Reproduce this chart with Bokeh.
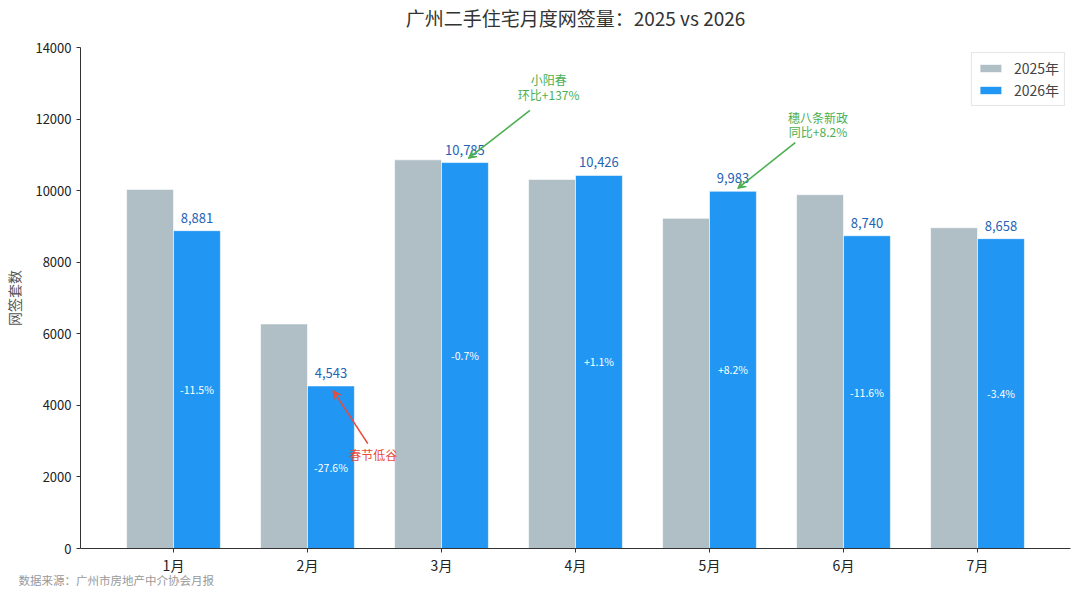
import numpy as np
from bokeh.plotting import figure
from bokeh.models import (ColumnDataSource, Range1d, FixedTicker, Legend, LegendItem,
                          Arrow, VeeHead, Title)
from bokeh.core.properties import value
from bokeh.embed import file_html
from bokeh.resources import INLINE

months = ["1月", "2月", "3月", "4月", "5月", "6月", "7月"]
v2025 = [10035, 6275, 10861, 10313, 9226, 9887, 8963]
v2026 = [8881, 4543, 10785, 10426, 9983, 8740, 8658]
yoy = ["-11.5%", "-27.6%", "-0.7%", "+1.1%", "+8.2%", "-11.6%", "-3.4%"]
yticks = [0, 2000, 4000, 6000, 8000, 10000, 12000, 14000]

# annotations: (text lines, text x, text y list, arrow start, arrow end, colour)
ann_texts = [["小阳春", "环比+137%"], ["穗八条新政", "同比+8.2%"], ["春节低谷"]]
ann_tx = [2.80, 4.81, 1.49]
ann_ty = [[13100, 12700], [12050, 11660], [2640]]
ann_start = [(2.66, 12240), (4.64, 11345), (1.45, 2930)]
ann_end = [(2.20, 10900), (4.21, 10060), (1.19, 4420)]
ann_color = ["#4caf50", "#4caf50", "#e74c3c"]

FONT = "Noto Sans CJK SC"
W = 0.35
idx = np.arange(len(months))
src = ColumnDataSource(dict(
    x25=idx - W / 2, x26=idx + W / 2, v25=v2025, v26=v2026,
    lab=[f"{v:,}" for v in v2026], yoy=yoy, half=[v / 2 for v in v2026]))

p = figure(width=1072, height=594, output_backend="svg", toolbar_location=None,
           title=None,
           x_range=Range1d(-0.694, 6.694), y_range=Range1d(0, 14000),
           min_border_left=80, min_border_right=2, min_border_top=47, min_border_bottom=46)
p.outline_line_color = None
p.xgrid.visible = False
p.ygrid.visible = False
p.background_fill_color = "white"

# spacer between frame and title, then the title itself
p.add_layout(Title(text=" ", text_font_size="13px", standoff=0), "above")
p.add_layout(Title(text="广州二手住宅月度网签量：2025 vs 2026", align="center",
                   text_font=FONT, text_font_size="19px", text_font_style="normal",
                   text_color="#333333", standoff=0), "above")

r25 = p.vbar(x="x25", top="v25", width=W, source=src, fill_color="#b0bec5",
             line_color="white", line_width=0.6)
r26 = p.vbar(x="x26", top="v26", width=W, source=src, fill_color="#2196f3",
             line_color="white", line_width=0.6)

p.text(x="x26", y="v26", text="lab", source=src, text_align="center",
       text_baseline="bottom", y_offset=-8, text_font=value(FONT),
       text_font_size="13px", text_color="#1e63b5")
p.text(x="x26", y="half", text="yoy", source=src, text_align="center",
       text_baseline="middle", text_font=value(FONT), text_font_size="10.5px",
       text_color="white")

for lines, tx, tys, st, en, col in zip(ann_texts, ann_tx, ann_ty, ann_start, ann_end, ann_color):
    p.text(x=[tx] * len(lines), y=tys, text=lines, text_align="center",
           text_baseline="middle", text_font=value(FONT), text_font_size="12px",
           text_color=col)
    p.add_layout(Arrow(x_start=st[0], y_start=st[1], x_end=en[0], y_end=en[1],
                       line_color=col, line_width=1.6,
                       end=VeeHead(size=8, fill_color=col, line_color=col)))

# axes
p.xaxis.ticker = FixedTicker(ticks=list(idx))
p.xaxis.major_label_overrides = {int(i): m for i, m in zip(idx, months)}
p.yaxis.ticker = FixedTicker(ticks=yticks)
for ax in (p.xaxis[0], p.yaxis[0]):
    ax.axis_line_color = "#333333"
    ax.major_tick_line_color = "#333333"
    ax.major_tick_out = 4
    ax.major_tick_in = 0
    ax.minor_tick_line_color = None
    ax.major_label_text_font = FONT
    ax.major_label_text_color = "#222222"
p.xaxis.major_label_text_font_size = "14px"
p.xaxis.major_label_standoff = 2
p.yaxis.major_label_text_font_size = "13px"
p.yaxis.axis_label = "网签套数"
p.yaxis.axis_label_text_font = FONT
p.yaxis.axis_label_text_font_size = "14px"
p.yaxis.axis_label_text_font_style = "normal"
p.yaxis.axis_label_text_color = "#555555"
p.yaxis.axis_label_standoff = 8

legend = Legend(items=[LegendItem(label="2025年", renderers=[r25]),
                       LegendItem(label="2026年", renderers=[r26])],
                location="top_right", margin=5, padding=5, spacing=2,
                label_height=17, label_standoff=10,
                glyph_width=27, glyph_height=10,
                label_text_font=FONT, label_text_font_size="14px",
                border_line_color="#cccccc", border_line_width=1,
                background_fill_alpha=0.9)
p.add_layout(legend)

p.add_layout(Title(text="数据来源：广州市房地产中介协会月报", align="left", offset=-62,
                   text_font=FONT, text_font_size="11.5px", text_font_style="normal",
                   text_color="#999999", standoff=-16), "below")

open("out.html", "w").write(file_html(p, INLINE))
